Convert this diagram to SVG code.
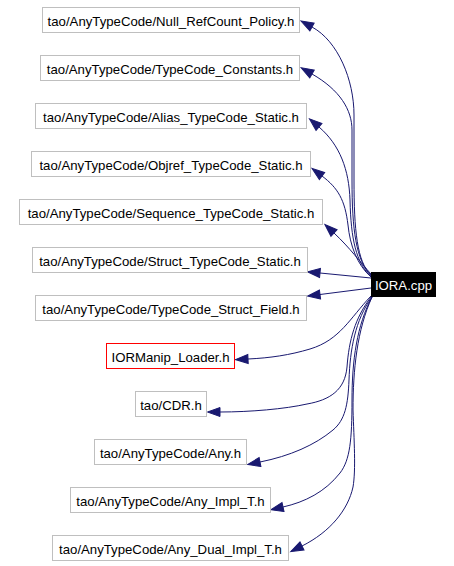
<svg xmlns="http://www.w3.org/2000/svg" width="454" height="566" viewBox="0 0 454 566">
<style>
.n rect{fill:#fff;stroke:#bfbfbf;stroke-width:1}
.n text{font-family:"Liberation Sans",Arial,sans-serif;font-size:13.2px;fill:#000;text-anchor:middle}
#n_iora rect{fill:#000;stroke:#000}
#n_iora text{fill:#fff}
#n_ior rect{stroke:#ff0000}
.e path{fill:none;stroke:#191970;stroke-width:1;marker-end:url(#ah)}
</style>
<defs>
<marker id="ah" markerUnits="userSpaceOnUse" markerWidth="14" markerHeight="10" refX="0" refY="4.5" orient="auto" overflow="visible">
<path d="M0,0 L12.5,4.5 L0,9 Z" fill="#191970" stroke="#191970" stroke-width="1"/>
</marker>
</defs>
<rect width="454" height="566" fill="#fff"/>
<g class="e">
<path d="M371,275 C357,262 354,230 354,180 L354,115 C354,80 338,41 312,27"/>
<path d="M371,276 C356,260 352,230 352,180 L352,130 C352,110 340,90 312,74"/>
<path d="M371,277 C356,262 351,240 350,200 C349,170 340,145 319,127"/>
<path d="M371,277 C357,265 350,245 348,225 C345,200 338,188 322,176"/>
<path d="M371,274 C360,262 350,248 334,233"/>
<path d="M371,278 L320,273"/>
<path d="M371,288 L320,294.5"/>
<path d="M371,296 C350,318 340,340 310,349 C290,355 270,358 248,359"/>
<path d="M371,297 C355,318 349,340 347,367 C345,390 330,400 307,404 C285,409 250,412 220,412"/>
<path d="M372,297 C355,320 350,350 349,380 C348,405 345,420 333,430 C315,445 290,456 260,462"/>
<path d="M372,297 C357,325 352,360 352,400 C352,440 350,460 340,473 C325,492 305,502 283,507"/>
<path d="M372,297 C357,330 353,370 353,410 C354,440 356,470 353,487 C348,510 330,532 302,546"/>
</g>
<g id="n_null" class="n"><rect x="42.5" y="7.5" width="257" height="25"/><text x="171" y="25.5">tao/AnyTypeCode/Null_RefCount_Policy.h</text></g>
<g id="n_const" class="n"><rect x="40.5" y="55.5" width="259" height="25"/><text x="170" y="73.5">tao/AnyTypeCode/TypeCode_Constants.h</text></g>
<g id="n_alias" class="n"><rect x="35.5" y="103.5" width="271" height="25"/><text x="171" y="121.5">tao/AnyTypeCode/Alias_TypeCode_Static.h</text></g>
<g id="n_objref" class="n"><rect x="31.5" y="151.5" width="279" height="25"/><text x="171" y="169.5">tao/AnyTypeCode/Objref_TypeCode_Static.h</text></g>
<g id="n_seq" class="n"><rect x="19.5" y="199.5" width="303" height="25"/><text x="171" y="217.5">tao/AnyTypeCode/Sequence_TypeCode_Static.h</text></g>
<g id="n_struct" class="n"><rect x="32.5" y="247.5" width="275" height="25"/><text x="170" y="265.5">tao/AnyTypeCode/Struct_TypeCode_Static.h</text></g>
<g id="n_iora" class="n"><rect x="371.5" y="272.5" width="64" height="24"/><text x="403.5" y="289.5">IORA.cpp</text></g>
<g id="n_field" class="n"><rect x="35.5" y="295.5" width="271" height="25"/><text x="171" y="313.5">tao/AnyTypeCode/TypeCode_Struct_Field.h</text></g>
<g id="n_ior" class="n"><rect x="106.5" y="343.5" width="128" height="25"/><text x="170.5" y="361.5">IORManip_Loader.h</text></g>
<g id="n_cdr" class="n"><rect x="135.5" y="391.5" width="71" height="25"/><text x="171" y="409.5">tao/CDR.h</text></g>
<g id="n_any" class="n"><rect x="94.5" y="439.5" width="152" height="25"/><text x="170.5" y="457.5">tao/AnyTypeCode/Any.h</text></g>
<g id="n_impl" class="n"><rect x="70.5" y="487.5" width="200" height="25"/><text x="170.5" y="505.5">tao/AnyTypeCode/Any_Impl_T.h</text></g>
<g id="n_dual" class="n"><rect x="52.5" y="535.5" width="236" height="25"/><text x="170.5" y="553.5">tao/AnyTypeCode/Any_Dual_Impl_T.h</text></g>
</svg>
